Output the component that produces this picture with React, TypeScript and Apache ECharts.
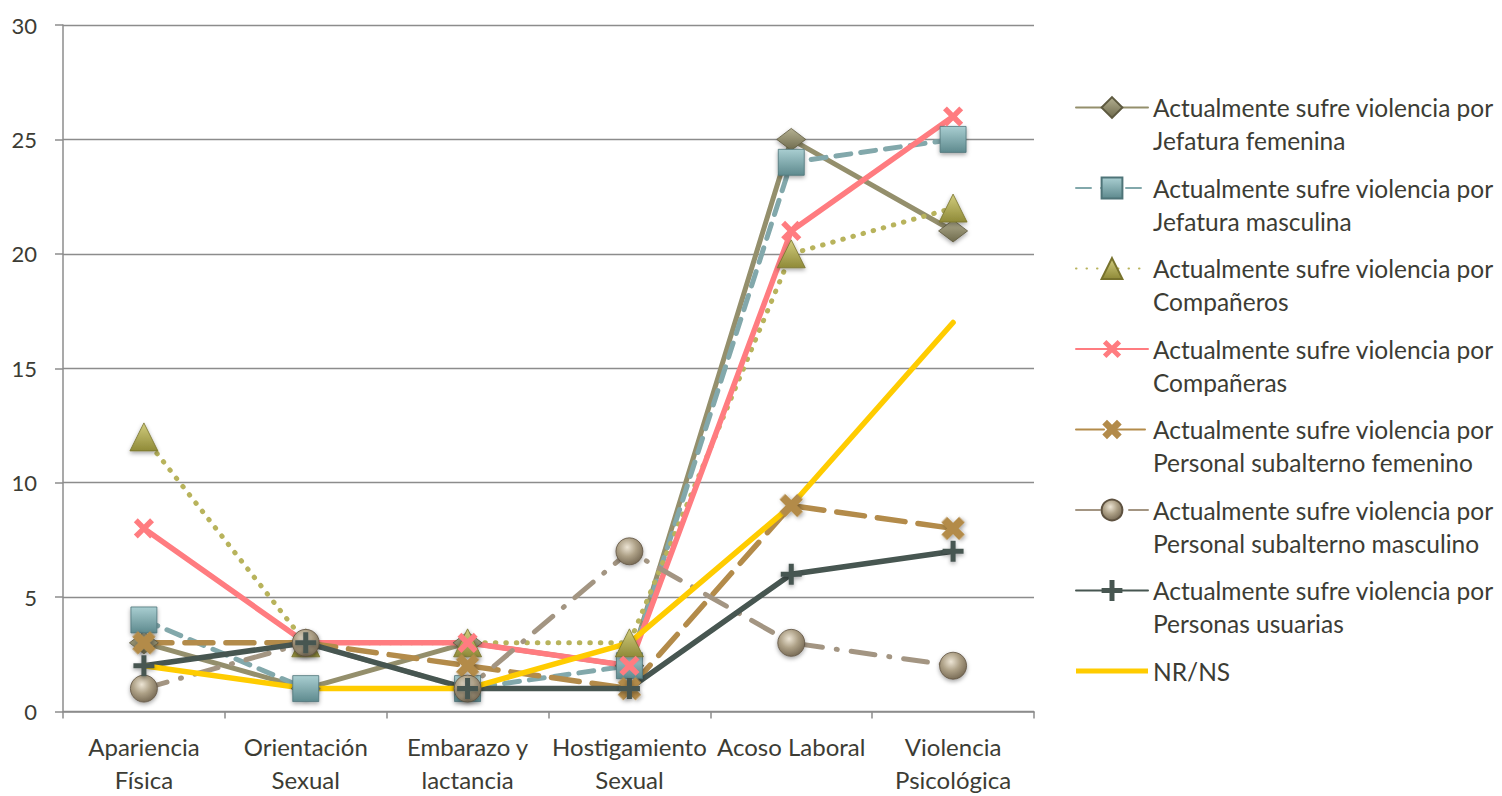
import React, { useEffect, useRef } from "react";
import * as echarts from "echarts";

const categories = [
  "Apariencia\nFísica",
  "Orientación\nSexual",
  "Embarazo y\nlactancia",
  "Hostigamiento\nSexual",
  "Acoso Laboral",
  "Violencia\nPsicológica",
];

const yTicks = { min: 0, max: 30, interval: 5 };

const jefaturaFemenina = [3, 1, 3, 2, 25, 21];
const jefaturaMasculina = [4, 1, 1, 2, 24, 25];
const companeros = [12, 3, 3, 3, 20, 22];
const companeras = [8, 3, 3, 2, 21, 26];
const subalternoFemenino = [3, 3, 2, 1, 9, 8];
const subalternoMasculino = [1, 3, 1, 7, 3, 2];
const personasUsuarias = [2, 3, 1, 1, 6, 7];
const nrNs = [2, 1, 1, 3, 9, 17];

const seriesNames = [
  "Actualmente sufre violencia por\nJefatura femenina",
  "Actualmente sufre violencia por\nJefatura masculina",
  "Actualmente sufre violencia por\nCompañeros",
  "Actualmente sufre violencia por\nCompañeras",
  "Actualmente sufre violencia por\nPersonal subalterno femenino",
  "Actualmente sufre violencia por\nPersonal subalterno masculino",
  "Actualmente sufre violencia por\nPersonas usuarias",
  "NR/NS",
];

const FONT = "Lato, 'Noto Sans', sans-serif";
const TEXT = "#3C3C34";
const GRID = "#8C8C8C";

// Marker shapes: a plus sign (rotated 45° it becomes an X) and a heavier variant
const PLUS = "path://M-1.2,-5H1.2V-1.2H5V1.2H1.2V5H-1.2V1.2H-5V-1.2H-1.2Z";
const FAT_PLUS = "path://M-1.6,-5H1.6V-1.6H5V1.6H1.6V5H-1.6V1.6H-5V-1.6H-1.6Z";
// Plain bar used as the legend key of the marker-less line
const BAR_ICON = "path://M0,0H72V5H0Z";

const vgrad = (top: string, bottom: string) => ({
  type: "linear",
  x: 0,
  y: 0,
  x2: 0,
  y2: 1,
  colorStops: [
    { offset: 0, color: top },
    { offset: 1, color: bottom },
  ],
});

const shadow = {
  shadowBlur: 4,
  shadowColor: "rgba(0,0,0,0.35)",
  shadowOffsetY: 2,
};

function lineSeries(
  name: string,
  data: number[],
  color: string,
  width: number,
  type: any,
  symbol: string,
  symbolSize: any,
  itemStyle: any,
  extra: any = {}
) {
  return {
    name,
    type: "line",
    data,
    symbol,
    symbolSize,
    showSymbol: symbol !== "none",
    lineStyle: { color, width, type, cap: "round" },
    itemStyle: { ...itemStyle },
    emphasis: { disabled: true },
    ...extra,
  };
}

export default function App() {
  const ref = useRef<HTMLDivElement>(null);

  useEffect(() => {
    if (!ref.current) return;
    const chart = echarts.init(ref.current, null, { renderer: "svg" });

    const series = [
      lineSeries(seriesNames[0], jefaturaFemenina, "#948F6C", 5, "solid", "diamond", [29, 22], {
        color: vgrad("#B4B091", "#6E6A4C"),
        borderColor: "#5E5A40",
        borderWidth: 0.8,
        ...shadow,
      }),
      lineSeries(seriesNames[1], jefaturaMasculina, "#82A8AB", 5, [15, 10], "rect", 26, {
        color: vgrad("#A9CED1", "#5E8A8E"),
        borderColor: "#4E7478",
        borderWidth: 0.8,
        ...shadow,
      }),
      lineSeries(seriesNames[2], companeros, "#B8B35C", 5, [0.5, 10], "triangle", 28, {
        color: vgrad("#D2CD7E", "#8F8A38"),
        borderColor: "#77722C",
        borderWidth: 0.8,
        ...shadow,
      }),
      lineSeries(seriesNames[3], companeras, "#FF7C80", 5.5, "solid", PLUS, 23, {
        color: "#FF7C80",
      }, { symbolRotate: 45 }),
      lineSeries(seriesNames[4], subalternoFemenino, "#B38B4A", 5.5, [28, 13], FAT_PLUS, 25, {
        color: "#B38B4A",
        ...shadow,
      }, { symbolRotate: 45 }),
      lineSeries(seriesNames[5], subalternoMasculino, "#A39582", 5, [24, 14, 1, 14], "circle", 27, {
        color: {
          type: "radial",
          x: 0.42,
          y: 0.35,
          r: 0.75,
          colorStops: [
            { offset: 0, color: "#ECE4D4" },
            { offset: 0.45, color: "#ADA086" },
            { offset: 1, color: "#6A5D49" },
          ],
        },
        borderColor: "#5E5240",
        borderWidth: 0.8,
        ...shadow,
      }),
      lineSeries(seriesNames[6], personasUsuarias, "#475651", 5.5, "solid", PLUS, 21, {
        color: "#475651",
        ...shadow,
      }),
      lineSeries(seriesNames[7], nrNs, "#FFCC00", 5.5, "solid", "none", 0, {
        color: "#FFCC00",
      }),
    ];

    const legendData = seriesNames.map((name, i) =>
      i === seriesNames.length - 1
        ? { name, icon: BAR_ICON, itemStyle: { color: "#FFCC00" } }
        : { name }
    );

    chart.setOption({
      animation: false,
      backgroundColor: "#ffffff",
      textStyle: { fontFamily: FONT },
      grid: { left: 63, right: 468, top: 25, bottom: 79, containLabel: false },
      legend: {
        orient: "vertical",
        left: 1075,
        top: 58,
        padding: 0,
        itemWidth: 72,
        itemHeight: 26,
        itemGap: -18.5,
        selectedMode: false,
        data: legendData,
        // a blank line above keeps the key aligned with the first text line
        formatter: (name: string) => (name.includes("\n") ? "\n" + name : "\n" + name + "\n"),
        textStyle: { fontFamily: FONT, fontSize: 24.5, lineHeight: 33, color: TEXT },
      },
      xAxis: {
        type: "category",
        data: categories,
        boundaryGap: true,
        axisLine: { show: true, lineStyle: { color: GRID, width: 1.5 } },
        axisTick: { show: true, length: 7, alignWithLabel: false, lineStyle: { color: GRID, width: 1.5 } },
        axisLabel: {
          margin: 18.5,
          fontFamily: FONT,
          fontSize: 24,
          lineHeight: 33,
          color: TEXT,
          interval: 0,
        },
        splitLine: { show: false },
      },
      yAxis: {
        type: "value",
        min: yTicks.min,
        max: yTicks.max,
        interval: yTicks.interval,
        axisLine: { show: true, lineStyle: { color: GRID, width: 1.5 } },
        axisTick: { show: true, length: 8, lineStyle: { color: GRID, width: 1.5 } },
        axisLabel: { margin: 26, fontFamily: FONT, fontSize: 22, color: TEXT },
        splitLine: { show: true, lineStyle: { color: GRID, width: 1.3 } },
      },
      series,
    });

    return () => chart.dispose();
  }, []);

  return (
    <div
      ref={ref}
      style={{ position: "fixed", left: 0, top: 0, width: 1502, height: 796, background: "#fff" }}
    />
  );
}
